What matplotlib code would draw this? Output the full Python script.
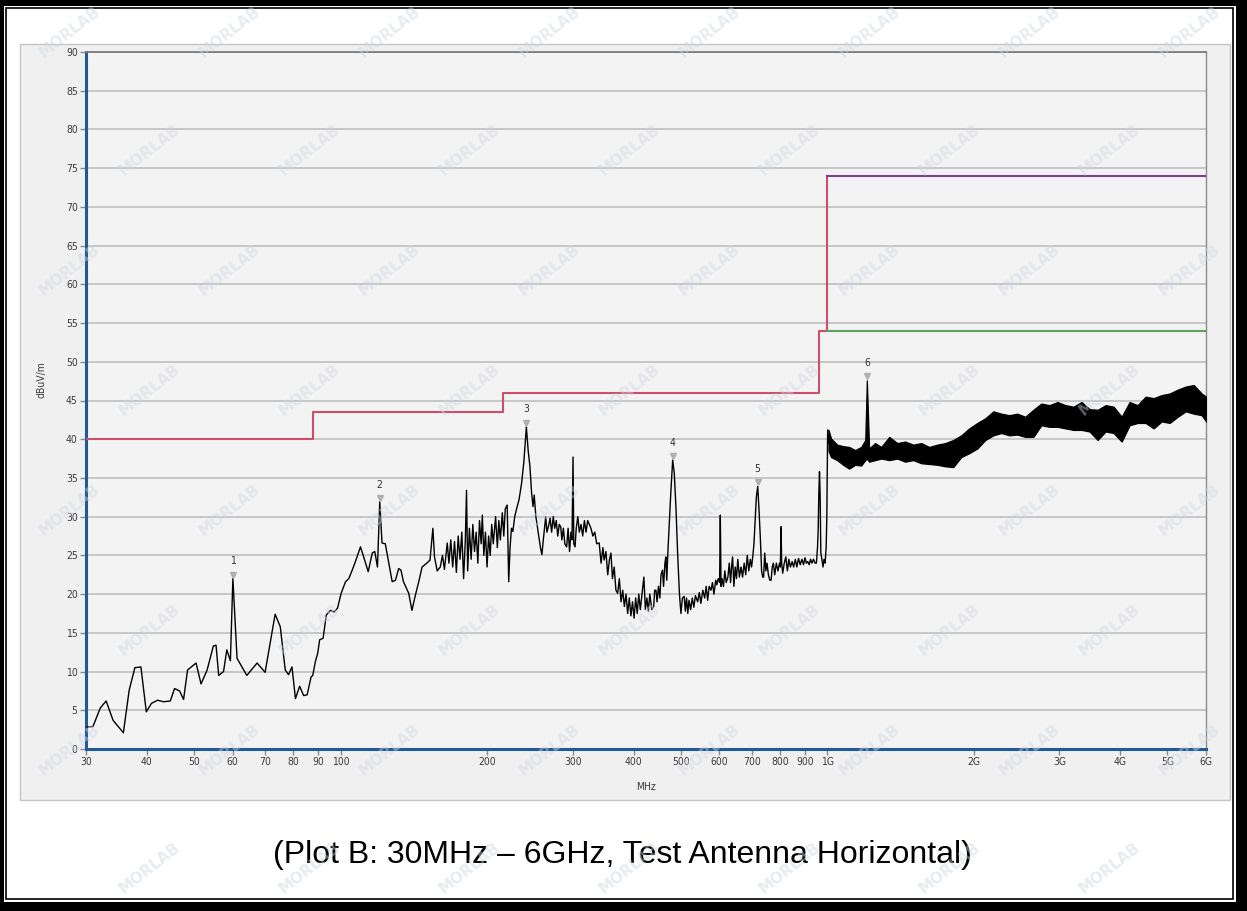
import numpy as np
import matplotlib.pyplot as plt
from matplotlib.patches import Rectangle
from matplotlib.transforms import offset_copy

# Trace below 1 GHz: frequency (MHz) and level (dBuV/m)
low_freq = [
    30.0, 31.0, 32.1, 33.0, 34.1, 35.8, 36.8, 37.8, 38.9, 39.9, 40.9, 42.1, 43.3, 44.7,
    45.6, 46.7, 47.6, 48.5, 50.5, 51.7, 53.2, 54.8, 55.5, 56.2, 57.5, 58.4, 59.4, 60.1,
    61.3, 64.2, 67.4, 70.0, 73.4, 75.2, 77.0, 78.2, 79.5, 80.8, 82.4, 84.0, 85.4, 87.0,
    87.7, 88.8, 89.8, 90.6, 92.1, 93.5, 95.3, 97.1, 98.6, 100.3, 102.4, 104.0, 105.7,
    107.3, 109.9, 111.6, 114.0, 116.2, 117.6, 119.1, 120.4, 121.7, 123.6, 127.7, 129.7,
    131.7, 133.1, 134.7, 138.1, 140.2, 142.3, 144.8, 147.1, 150.4, 152.7, 154.8, 156.0,
    158.0, 160.3, 162.0, 163.5, 165.7, 167.0, 168.5, 170.0, 171.5, 173.0, 174.5, 176.0,
    177.5, 179.0, 180.5, 181.5, 182.5, 184.0, 185.5, 187.0, 188.5, 190.0, 191.5, 193.0,
    194.5, 195.6, 197.0, 198.5, 200.0, 201.5, 203.0, 204.5, 206.0, 208.3, 210.0, 211.5,
    213.0, 215.0, 216.5, 218.0, 220.0, 221.6, 223.0, 224.5, 226.0, 228.0, 230.0, 232.7,
    235.5, 238.0, 240.9, 243.0, 245.0, 247.0, 248.6, 250.0, 252.0, 255.6, 257.5, 259.3,
    261.0, 264.0, 265.5, 267.8, 269.5, 271.5, 273.6, 275.5, 277.5, 279.5, 281.5, 283.4,
    285.0, 287.0, 289.0, 291.5, 293.5, 295.5, 297.5, 299.0, 300.4, 301.5, 303.3, 305.0,
    307.3, 309.5, 312.0, 314.5, 317.0, 319.5, 322.0, 324.0, 327.0, 330.0, 333.0, 336.0,
    340.0, 343.0, 346.0, 348.0, 351.0, 354.0, 357.0, 359.5, 362.0, 365.0, 368.0, 371.0,
    374.0, 377.0, 380.0, 383.0, 386.0, 389.0, 392.0, 395.0, 398.0, 401.0, 404.0, 407.0,
    410.0, 413.0, 416.0, 420.0, 423.0, 426.0, 429.0, 432.0, 436.0, 440.0, 442.0, 444.7,
    447.0, 450.0, 453.0, 455.5, 458.7, 461.0, 464.0, 466.0, 468.0, 471.0, 474.0, 477.0,
    481.3, 485.0, 489.0, 492.7, 497.0, 500.5, 504.0, 508.3, 511.0, 514.0, 517.0, 520.0,
    524.0, 528.0, 532.0, 536.0, 541.7, 546.0, 550.0, 555.0, 560.0, 564.0, 568.0, 572.0,
    577.0, 581.0, 585.0, 590.0, 593.0, 597.0, 601.0, 603.0, 605.0, 608.0, 612.0, 616.0,
    620.0, 625.0, 629.0, 633.0, 636.0, 639.0, 643.0, 647.0, 651.0, 655.0, 660.0, 665.0,
    670.0, 675.0, 680.0, 685.0, 690.0, 695.0, 699.0, 703.0, 707.0, 711.0, 715.0, 719.7,
    724.0, 729.0, 733.0, 737.0, 740.0, 744.0, 748.0, 752.0, 757.0, 762.0, 766.7, 771.0,
    775.0, 780.0, 786.0, 792.0, 798.0, 801.0, 803.8, 806.0, 810.0, 816.0, 822.0, 828.0,
    834.0, 840.0, 847.0, 853.0, 860.0, 866.0, 873.0, 880.0, 887.0, 894.0, 900.0, 906.0,
    912.0, 918.0, 924.0, 930.0, 937.0, 944.0, 950.0, 955.0, 958.0, 961.0, 964.0, 967.0,
    970.0, 975.0, 980.0, 985.0, 990.0, 995.0, 998.0, 1002.0, 1006.0,
]
low_level = [
    2.8, 2.9, 5.3, 6.2, 3.7, 2.1, 7.6, 10.5, 10.6, 4.8, 5.9, 6.3, 6.1, 6.2,
    7.8, 7.5, 6.4, 10.2, 11.1, 8.4, 10.2, 13.3, 13.4, 9.5, 10.0, 12.8, 11.4, 22.0,
    11.7, 9.5, 11.1, 9.9, 17.4, 15.8, 10.2, 9.6, 10.6, 6.5, 8.1, 6.9, 7.0, 9.3,
    9.5, 11.3, 12.4, 14.1, 14.3, 17.3, 17.9, 17.7, 18.2, 20.1, 21.6, 22.0, 23.1,
    24.2, 26.1, 24.8, 22.9, 25.3, 25.5, 23.5, 31.9, 26.6, 26.5, 21.6, 21.8,
    23.3, 23.1, 21.6, 20.1, 17.9, 19.7, 21.6, 23.5, 24.0, 24.4, 28.5, 24.8,
    23.0, 23.5, 25.0, 23.2, 26.6, 24.0, 27.0, 23.5, 26.8, 22.8, 27.5, 24.5,
    28.0, 22.0, 27.0, 33.4, 23.0, 28.5, 24.5, 29.0, 25.5, 28.0, 24.0, 29.5,
    26.5, 30.2, 25.0, 28.0, 23.5, 27.5, 25.0, 29.0, 26.5, 30.0, 26.0, 29.5,
    27.0, 30.5, 27.5, 31.0, 31.5, 21.6, 26.0, 28.5, 28.1, 30.0, 31.0, 32.2,
    34.3, 37.0, 41.6, 38.5, 36.5, 33.0, 31.3, 32.8, 30.0, 27.4, 26.0, 25.1,
    27.0, 30.0, 28.0, 28.9, 29.8, 28.0, 30.0, 28.5, 29.5, 27.5, 29.0, 28.7,
    27.0, 28.5, 26.5, 26.1, 28.5, 25.5, 28.0, 27.0, 37.7, 26.5, 26.1, 28.5,
    30.0, 28.0, 29.0, 27.5, 29.5, 28.0, 29.5, 29.1, 28.5, 27.5, 28.0, 26.5,
    26.6, 24.0, 26.0, 24.4, 25.5, 22.5, 24.5, 25.3, 22.0, 23.5, 20.5, 20.1,
    22.0, 19.0, 20.5, 18.4, 20.0, 17.5, 19.5, 17.2, 19.0, 16.9, 19.5, 17.5,
    20.0, 18.0, 19.8, 22.2, 18.0, 19.5, 17.8, 20.0, 18.0, 18.4, 20.5, 20.5,
    19.0, 21.0, 19.5, 22.5, 23.1, 21.0, 24.0, 24.8, 21.8, 26.0, 29.6, 33.0,
    37.3, 35.6, 31.0, 25.3, 20.0, 17.5, 19.5, 19.7, 17.8, 19.5, 17.5, 19.2,
    18.0, 19.5, 18.3, 19.8, 19.0, 20.2, 18.8, 20.5, 19.5, 21.0, 19.2, 21.0,
    20.5, 21.5, 20.0, 21.8, 21.2, 22.0, 21.5, 30.2, 21.0, 22.0, 21.0, 23.0,
    21.5, 22.2, 24.0, 21.5, 23.5, 24.8, 21.0, 23.5, 22.0, 24.5, 22.2, 23.5,
    22.2, 24.0, 22.5, 25.0, 23.0, 24.5, 23.5, 24.8, 26.5, 29.5, 32.5, 33.9,
    31.0, 27.0, 23.0, 22.2, 22.2, 25.3, 23.0, 24.0, 22.5, 21.8, 21.8, 23.5,
    24.0, 22.5, 24.0, 23.0, 24.0, 23.5, 28.7, 24.0, 22.7, 24.0, 24.8, 23.0,
    24.5, 23.5, 24.2, 23.5, 24.5, 23.5, 24.6, 23.8, 24.5, 23.8, 24.7, 24.0,
    24.2, 23.8, 24.5, 24.0, 24.5, 24.0, 24.0, 26.0, 28.3, 33.0, 35.8, 32.6,
    25.3, 24.5, 23.5, 24.5, 24.0, 26.1, 30.0, 41.2, 39.5,
]

# Above 1 GHz the trace is a dense noise band: upper and lower edge
band_freq = [1006, 1018, 1048, 1078, 1109, 1141, 1174, 1197, 1206, 1219, 1254, 1291,
             1341, 1393, 1446, 1502, 1560, 1620, 1683, 1748, 1815, 1885, 1958, 2034,
             2112, 2194, 2278, 2366, 2457, 2552, 2651, 2753, 2861, 2972, 3086, 3206,
             3330, 3459, 3593, 3732, 3876, 4026, 4180, 4342, 4509, 4684, 4865, 5052,
             5248, 5451, 5661, 5880, 6000]
band_hi = [41.2, 40.1, 39.3, 39.1, 39.0, 38.6, 39.0, 39.9, 47.6, 38.8, 39.5, 39.0,
           40.3, 39.5, 39.7, 39.3, 39.5, 39.0, 39.3, 39.5, 39.9, 40.5, 41.4, 42.1,
           42.7, 43.6, 43.3, 43.1, 43.3, 42.9, 43.8, 44.6, 44.4, 44.8, 44.4, 44.2,
           44.8, 43.9, 43.8, 44.4, 44.2, 42.9, 44.8, 44.4, 45.5, 45.3, 45.7, 45.9,
           46.4, 46.8, 47.0, 45.9, 45.5]
band_lo = [38.5, 37.7, 37.3, 36.7, 36.2, 36.7, 36.6, 37.3, 37.5, 37.1, 37.3, 37.5,
           37.3, 37.5, 37.1, 37.3, 36.9, 36.8, 36.7, 36.5, 36.4, 37.7, 38.2, 38.8,
           39.9, 40.5, 40.8, 40.5, 40.6, 40.3, 40.3, 41.8, 41.6, 41.6, 41.4, 41.2,
           41.2, 41.0, 39.9, 41.0, 40.8, 39.7, 41.8, 42.1, 42.1, 41.4, 42.3, 42.1,
           42.9, 43.6, 43.3, 43.1, 42.3]

# Limit lines
limit_freq = [30, 88, 216, 960, 1000]
limit_level = [40, 43.5, 46, 54, 74]
peak_limit_freq = [1000, 6000]
peak_limit_level = [74, 74]
avg_limit_freq = [1000, 6000]
avg_limit_level = [54, 54]

# Marked peaks
marker_freq = [60.1, 120.4, 240.9, 481.3, 719.7, 1206]
marker_level = [22.0, 31.9, 41.6, 37.3, 33.9, 47.6]
marker_name = ['1', '2', '3', '4', '5', '6']

x_ticks = [30, 40, 50, 60, 70, 80, 90, 100, 200, 300, 400, 500, 600, 700, 800, 900,
           1000, 2000, 3000, 4000, 5000, 6000]
x_tick_labels = ['30', '40', '50', '60', '70', '80', '90', '100', '200', '300', '400',
                 '500', '600', '700', '800', '900', '1G', '2G', '3G', '4G', '5G', '6G']
y_ticks = np.arange(0, 91, 5)

W, H = 1247, 911
narrow = ['Liberation Sans Narrow', 'DejaVu Sans']

fig = plt.figure(figsize=(W / 100, H / 100), dpi=100, facecolor='black')


def px_rect(x0, y0, x1, y1, **kw):
    r = Rectangle((x0 / W, 1 - y1 / H), (x1 - x0) / W, (y1 - y0) / H,
                  transform=fig.transFigure, figure=fig, **kw)
    fig.patches.append(r)


# Page frame and the grey panel of the analyser window
px_rect(4, 6, 1236, 902, facecolor='white', edgecolor='none', zorder=-10)
px_rect(6, 8, 1233, 899, facecolor='none', edgecolor='black', linewidth=1.2, zorder=-9)
px_rect(20, 44, 1230, 800, facecolor='#f0f0f0', edgecolor='#c4c4c4', linewidth=1.0, zorder=-5)

# faint watermarks over the whole page
for row, wy in enumerate([32, 150, 270, 390, 510, 630, 750, 868]):
    for wx in range(70 + (row % 2) * 80, 1200, 160):
        fig.text(wx / W, 1 - wy / H, 'MORLAB', rotation=38, fontsize=11, fontweight='bold',
                 color='#cdd6e2', alpha=0.45, ha='center', va='center', zorder=10)

ax = fig.add_axes([86 / W, 1 - 749 / H, (1206 - 86) / W, (749 - 52) / H])
ax.set_facecolor('#f3f3f3')
ax.set_xscale('log')
ax.set_xlim(30, 6000)
ax.set_ylim(0, 90)

for v in y_ticks[1:]:
    ax.axhline(v, color='#c6c6c6', linewidth=1.4, zorder=1)

ax.step(limit_freq, limit_level, where='post', color='#c8506e', linewidth=1.5, zorder=3)
ax.plot(peak_limit_freq, peak_limit_level, color='#7b3f92', linewidth=1.5, zorder=3)
ax.plot(avg_limit_freq, avg_limit_level, color='#5f9f5f', linewidth=1.5, zorder=3)

ax.plot(low_freq, low_level, color='black', linewidth=1.0, zorder=4)
ax.fill_between(band_freq, band_lo, band_hi, facecolor='black', edgecolor='black',
                linewidth=0.9, zorder=4)

tri = offset_copy(ax.transData, fig=fig, x=0, y=4, units='dots')
ax.plot(marker_freq, marker_level, 'v', color='#b0b0b0', markersize=4, transform=tri, zorder=5)
for f, v, name in zip(marker_freq, marker_level, marker_name):
    ax.annotate(name, (f, v), xytext=(0, 12.5), textcoords='offset points', ha='center',
                va='center', fontsize=7.5, color='#333333', family=narrow,
                fontstretch='condensed', zorder=6)

ax.set_xticks(x_ticks)
ax.set_xticklabels(x_tick_labels)
ax.xaxis.set_minor_locator(plt.NullLocator())
ax.set_yticks(y_ticks)
ax.tick_params(axis='x', length=4, width=1, color='#8a8a8a', pad=2,
               labelsize=7.5, labelcolor='#3a3a3a')
ax.tick_params(axis='y', length=4, width=1, color='#8a8a8a', pad=2,
               labelsize=7.5, labelcolor='#3a3a3a')
for lab in ax.get_xticklabels() + ax.get_yticklabels():
    lab.set_family(narrow)
    lab.set_fontstretch('condensed')

ax.spines['left'].set_color('#1f5a96')
ax.spines['left'].set_linewidth(2.2)
ax.spines['bottom'].set_color('#1f5a96')
ax.spines['bottom'].set_linewidth(2.2)
ax.spines['top'].set_color('#7a7a7a')
ax.spines['top'].set_linewidth(1.3)
ax.spines['right'].set_color('#8a8a8a')
ax.spines['right'].set_linewidth(1.0)

fig.text(42 / W, 1 - 380 / H, 'dBuV/m', rotation=90, ha='center', va='center',
         fontsize=7.5, color='#3a3a3a', family=narrow, fontstretch='condensed')
fig.text(646 / W, 1 - 787 / H, 'MHz', ha='center', va='center',
         fontsize=7.5, color='#3a3a3a', family=narrow, fontstretch='condensed')

fig.text(622 / W, 1 - 855 / H, '(Plot B: 30MHz \u2013 6GHz, Test Antenna Horizontal)',
         ha='center', va='center', fontsize=23, color='black', family='Liberation Sans')

plt.savefig('out.png', dpi=100, facecolor=fig.get_facecolor())
